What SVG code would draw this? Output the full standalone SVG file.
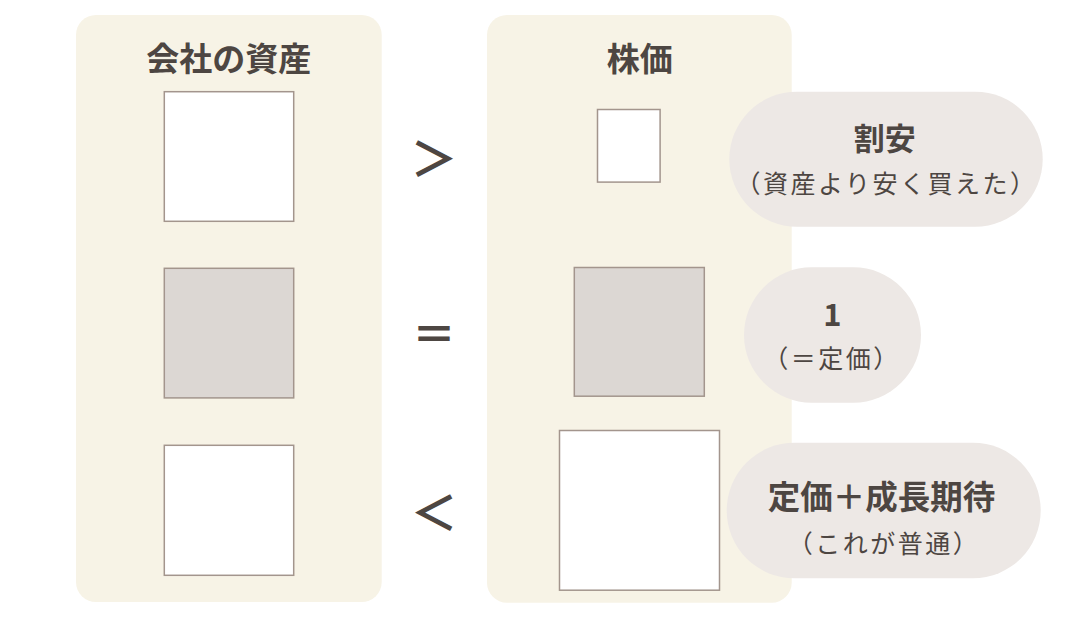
<svg xmlns="http://www.w3.org/2000/svg" width="1068" height="618" viewBox="0 0 1068 618">
<style>
.panel{fill:#f7f3e6}
.box{fill:#ffffff;stroke:#a3958d;stroke-width:1.5}
.box.gray{fill:#dcd7d3}
.pill{fill:#ede8e5}
text{fill:#4d4642;font-family:"Noto Sans CJK JP","Noto Sans",sans-serif;text-anchor:middle;dominant-baseline:central}
.title{font-size:33px;font-weight:700}
.label{font-size:31px;font-weight:700}
.label.long{font-size:32.5px}
.sub{font-size:25px;font-weight:400;letter-spacing:2.5px}
.op{font-size:44px;font-weight:700}
.op.tall{font-size:47px}
</style>
<rect width="1068" height="618" fill="#ffffff"/>
<g id="assets-panel">
<rect class="panel" x="76" y="15" width="305.7" height="587" rx="20"/>
<text class="title" x="228.8" y="56.7">会社の資産</text>
<rect class="box" x="164.3" y="91.7" width="129.4" height="129.6"/>
<rect class="box gray" x="164.3" y="268.3" width="129.4" height="129.6"/>
<rect class="box" x="164.3" y="445.3" width="129.4" height="130"/>
</g>
<g id="price-panel">
<rect class="panel" x="487" y="15" width="304.7" height="587.7" rx="20"/>
<text class="title" x="639.7" y="56.7">株価</text>
<rect class="box" x="597.5" y="109.5" width="62.6" height="72.6"/>
<rect class="box gray" x="574.3" y="267.5" width="130" height="128.7"/>
<rect class="box" x="559.5" y="430.5" width="160" height="159.7"/>
</g>
<g id="operators">
<text class="op tall" x="434" y="155">＞</text>
<text class="op" x="434" y="331.5">＝</text>
<text class="op tall" x="434" y="509">＜</text>
</g>
<g id="pill-cheap">
<rect class="pill" x="729.3" y="91.7" width="313.4" height="135" rx="67.5"/>
<text class="label" x="884.7" y="136.7">割安</text>
<text class="sub" x="886.5" y="182.2">（資産より安く買えた）</text>
</g>
<g id="pill-one">
<rect class="pill" x="744" y="267.3" width="177" height="135.4" rx="67.7"/>
<text class="label" x="832.3" y="312.7">1</text>
<text class="sub" x="832" y="357.3">（＝定価）</text>
</g>
<g id="pill-growth">
<rect class="pill" x="726.7" y="442.7" width="314" height="135.6" rx="67.8"/>
<text class="label long" x="881.5" y="494.2">定価＋成長期待</text>
<text class="sub" x="884" y="541.7">（これが普通）</text>
</g>
<g id="connectors"></g>
</svg>
